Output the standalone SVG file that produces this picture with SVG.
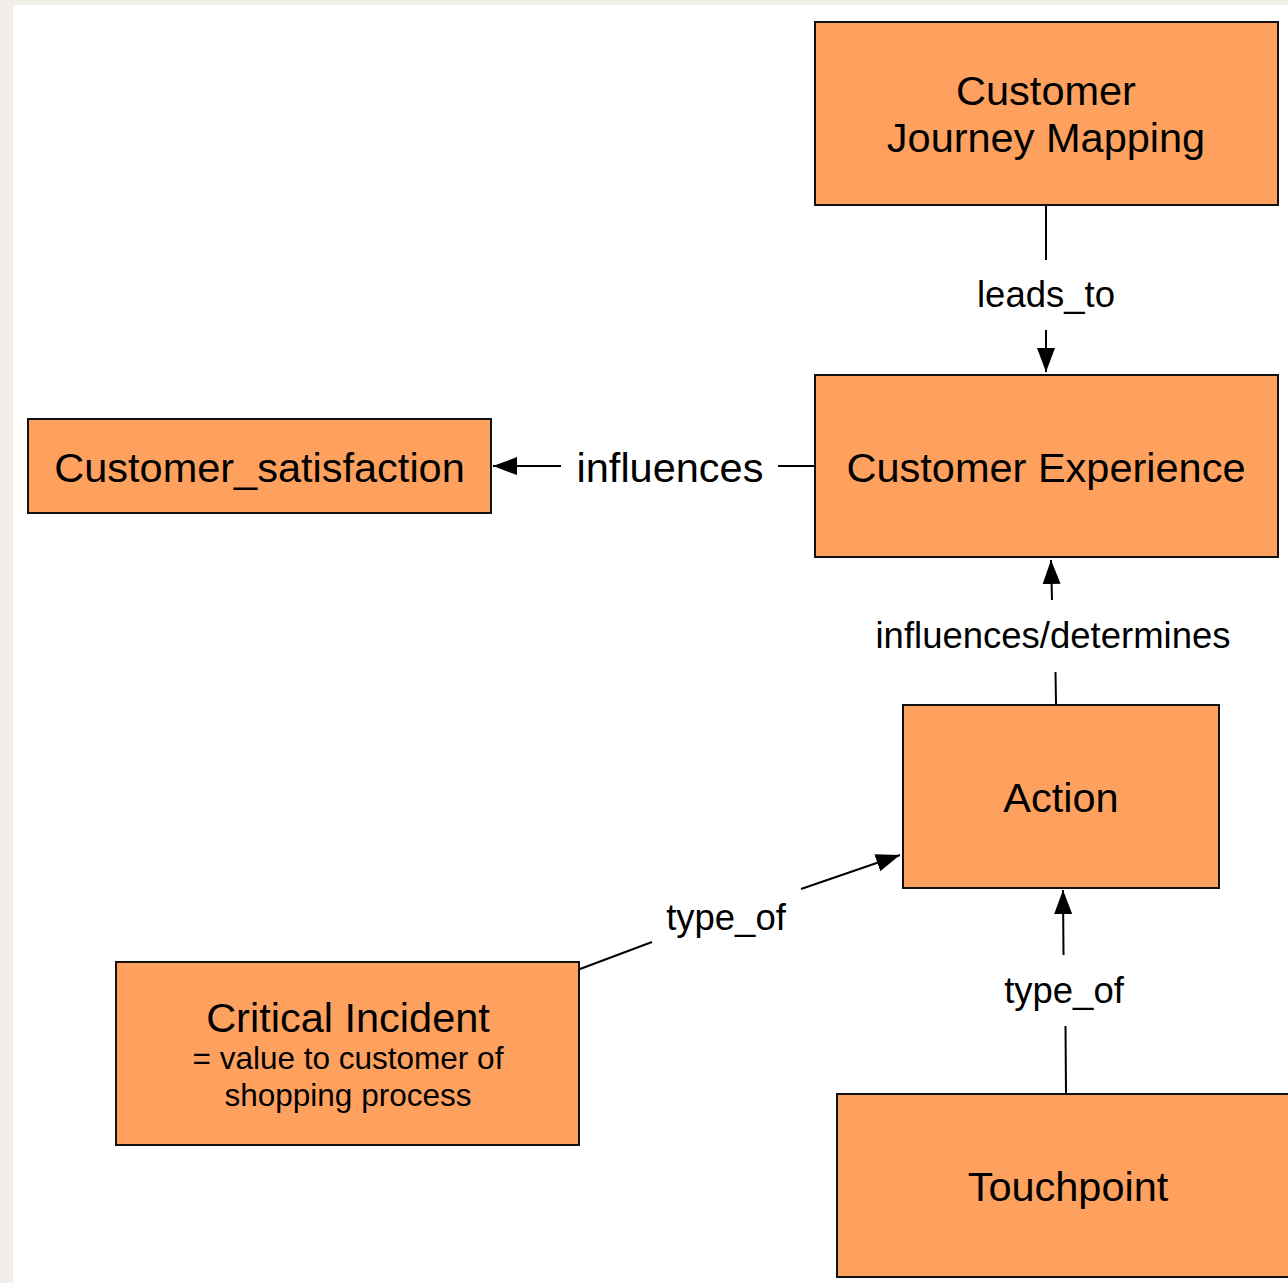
<svg xmlns="http://www.w3.org/2000/svg" width="1288" height="1283" viewBox="0 0 1288 1283">
<defs>
<style>
.box{fill:#fea15e;stroke:#111;stroke-width:2}
.t{font-family:"Liberation Sans",Arial,sans-serif;fill:#000;text-anchor:middle}
.big{font-size:41.5px}
.sm{font-size:31.5px}
.lbl{font-size:36.5px}
.c{stroke:#000;stroke-width:2;fill:none}
</style>
<marker id="ah" markerUnits="userSpaceOnUse" markerWidth="25" markerHeight="20" viewBox="0 0 25 20" refX="24" refY="10" orient="auto">
<path d="M0,1 L24,10 L0,19 z" fill="#000"/>
</marker>
</defs>
<rect x="0" y="0" width="1288" height="1283" fill="#f2efe8"/>
<rect x="13" y="5" width="1275" height="1278" fill="#ffffff"/>

<g id="connectors">
<line class="c" x1="1046" y1="206" x2="1046" y2="260"/>
<line class="c" x1="1046" y1="330" x2="1046" y2="372" marker-end="url(#ah)"/>
<text class="t lbl" x="1046" y="307">leads_to</text>

<line class="c" x1="815" y1="466" x2="778" y2="466"/>
<line class="c" x1="561" y1="466" x2="493" y2="466" marker-end="url(#ah)"/>
<text class="t big" x="670" y="482">influences</text>

<line class="c" x1="1056" y1="704" x2="1055.5" y2="672"/>
<line class="c" x1="1052" y1="600" x2="1051" y2="560" marker-end="url(#ah)"/>
<text class="t lbl" x="1053" y="648">influences/determines</text>

<line class="c" x1="580" y1="969" x2="652" y2="942"/>
<line class="c" x1="801" y1="889" x2="900" y2="855" marker-end="url(#ah)"/>
<text class="t lbl" x="726" y="930">type_of</text>

<line class="c" x1="1066" y1="1093" x2="1065.5" y2="1026"/>
<line class="c" x1="1063.5" y1="955" x2="1063" y2="890" marker-end="url(#ah)"/>
<text class="t lbl" x="1064" y="1003">type_of</text>
</g>

<g id="cjm">
<rect class="box" x="815" y="22" width="463" height="183"/>
<text class="t big" x="1046" y="105">Customer</text>
<text class="t big" x="1046" y="152">Journey Mapping</text>
</g>
<g id="ce">
<rect class="box" x="815" y="375" width="463" height="182"/>
<text class="t big" x="1046" y="482">Customer Experience</text>
</g>
<g id="cs">
<rect class="box" x="28" y="419" width="463" height="94"/>
<text class="t big" x="259.5" y="482">Customer_satisfaction</text>
</g>
<g id="action">
<rect class="box" x="903" y="705" width="316" height="183"/>
<text class="t big" x="1061" y="812">Action</text>
</g>
<g id="ci">
<rect class="box" x="116" y="962" width="463" height="183"/>
<text class="t big" x="348" y="1032">Critical Incident</text>
<text class="t sm" x="348" y="1069">= value to customer of</text>
<text class="t sm" x="348" y="1106">shopping process</text>
</g>
<g id="tp">
<rect class="box" x="837" y="1094" width="470" height="183"/>
<text class="t big" x="1068" y="1201">Touchpoint</text>
</g>
</svg>
